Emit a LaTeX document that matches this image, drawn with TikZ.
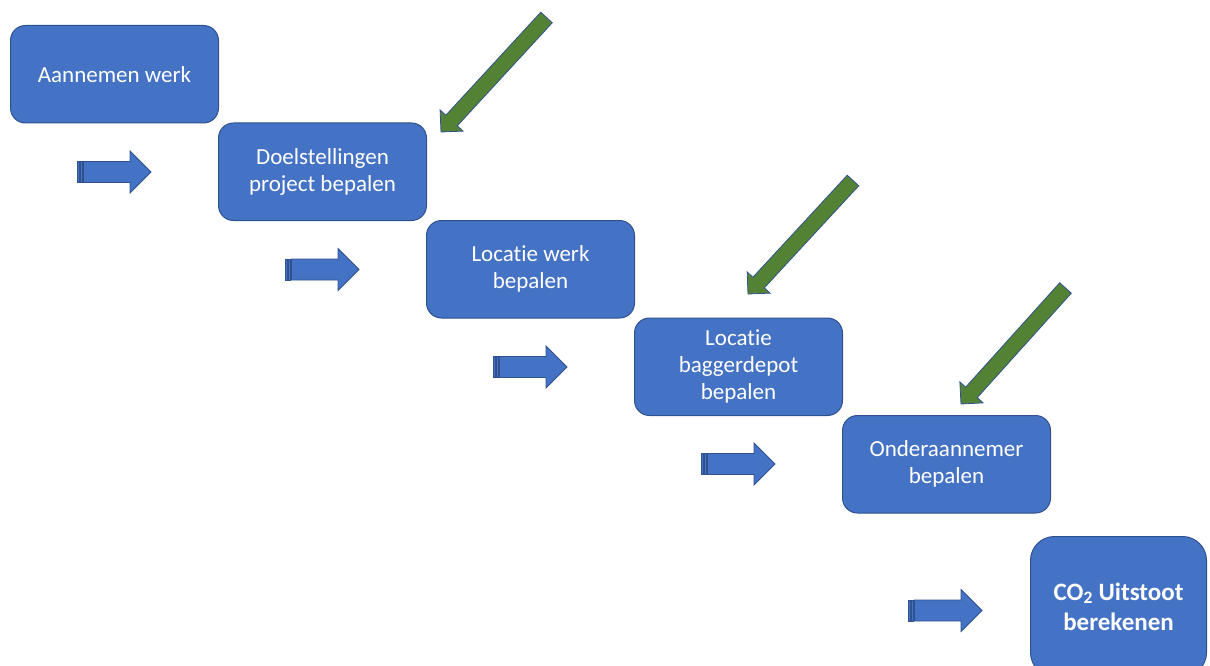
\documentclass[tikz,border=0pt]{standalone}
\usepackage{fontspec}
\setmainfont{Carlito}[Ligatures=NoCommon]
\usetikzlibrary{calc}
\definecolor{boxblue}{HTML}{4472C4}
\definecolor{boxedge}{HTML}{2F528F}
\definecolor{arrgreen}{HTML}{548235}
\tikzset{
  stepbox/.style={draw=boxedge, fill=boxblue, line width=1pt, rounded corners=15pt,
    minimum width=208pt, minimum height=97.5pt, inner sep=0pt, text=white,
    align=center, font=\fontsize{23}{27}\selectfont, anchor=north west},
  finalbox/.style={stepbox, minimum width=176pt, minimum height=140pt,
    rounded corners=24pt, font=\bfseries\fontsize{25}{30}\selectfont},
  bluearrow/.style={draw=boxedge, fill=boxblue, line width=0.8pt, line join=miter},
  greenarrow/.style={draw=boxedge, fill=arrgreen, line width=0.8pt, line join=miter},
}
\newcommand\stripedarrow[3]{%
  \begin{scope}[shift={(#2,#3)}]
    \coordinate (#1) at (0,0);
    \filldraw[bluearrow] (0,-10.5) rectangle (2,10.5);
    \filldraw[bluearrow] (3.2,-10.5) rectangle (5.2,10.5);
    \filldraw[bluearrow] (6.4,-10.5) -- (53,-10.5) -- (53,-21) -- (74,0)
      -- (53,21) -- (53,10.5) -- (6.4,10.5) -- cycle;
  \end{scope}}
\newcommand\grarrow[3]{%
  \coordinate (#1t) at #2;
  \coordinate (#1p) at #3;
  \coordinate (#1b) at ($(#1p)!15.6pt!(#1t)$);
  \filldraw[greenarrow] ($(#1t)!7.8pt!90:(#1p)$) -- ($(#1b)!7.8pt!90:(#1p)$)
    -- ($(#1b)!15.6pt!90:(#1p)$) -- (#1p) -- ($(#1b)!15.6pt!-90:(#1p)$)
    -- ($(#1b)!7.8pt!-90:(#1p)$) -- ($(#1t)!7.8pt!-90:(#1p)$) -- cycle;}
\begin{document}
\begin{tikzpicture}[x=1pt,y=-1pt]
  \useasboundingbox (0,0) rectangle (1210,666);
  \clip (0,0) rectangle (1210,666);
  \node[stepbox] (b1) at (10,25) {Aannemen werk};
  \node[stepbox] (b2) at (218,122.5) {Doelstellingen\\project bepalen};
  \node[stepbox] (b3) at (426,220) {Locatie werk\\bepalen};
  \node[stepbox] (b4) at (634,317.5) {Locatie\\baggerdepot\\bepalen};
  \node[stepbox] (b5) at (842,415) {Onderaannemer\\bepalen};
  \node[finalbox] (b6) at (1030,536) {CO\textsubscript{2} Uitstoot\\berekenen};
  \stripedarrow{a1}{77}{172}
  \stripedarrow{a2}{285}{269.5}
  \stripedarrow{a3}{493}{367}
  \stripedarrow{a4}{701}{464}
  \stripedarrow{a5}{908}{610.5}
  \grarrow{g1}{(546.5,17.5)}{(441,132)}
  \grarrow{g2}{(853,180.5)}{(748,294)}
  \grarrow{g3}{(1065.5,288)}{(961,404)}
\end{tikzpicture}
\end{document}
